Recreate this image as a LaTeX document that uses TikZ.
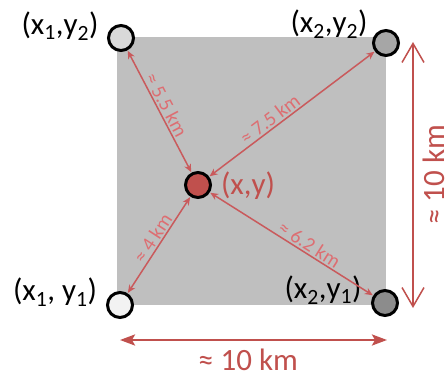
\documentclass[tikz,border=0pt]{standalone}
\usepackage{fontspec}
\setmainfont{Carlito}
\usetikzlibrary{arrows.meta}
\definecolor{accred}{HTML}{C0504D}
\definecolor{distred}{HTML}{C95A5C}
\definecolor{disttext}{HTML}{DD6E72}
\definecolor{rectgray}{HTML}{BFBFBF}
\definecolor{ptA}{HTML}{D9D9D9}
\definecolor{ptB}{HTML}{F2F2F2}
\definecolor{ptC}{HTML}{A6A6A6}
\definecolor{ptD}{HTML}{8C8C8C}
\begin{document}
\begin{tikzpicture}[x=1pt,y=-1pt,
  corner/.style={circle,draw=black,line width=3pt,minimum size=25pt,inner sep=0pt},
  biglbl/.style={font=\fontsize{31}{36}\selectfont,inner sep=0pt},
  distarrow/.style={draw=distred,line width=1.5pt,{Stealth[length=8pt,width=7pt]}-{Stealth[length=8pt,width=7pt]},shorten <=0.5pt,shorten >=0.5pt},
  distlbl/.style={font=\fontsize{20}{24}\selectfont,text=disttext,inner sep=1.5pt,sloped,above},
  dimarrow/.style={draw=accred,line width=2.5pt,{Stealth[length=15pt,width=11pt,inset=3pt]}-{Stealth[length=15pt,width=11pt,inset=3pt]}},
  dimarrowv/.style={draw=accred,line width=1.5pt,{Straight Barb[length=19pt,width=22pt]}-{Straight Barb[length=19pt,width=22pt]}},
  dimlbl/.style={font=\fontsize{31}{36}\selectfont,text=accred,inner sep=0pt}]
\useasboundingbox (0,0) rectangle (447,377);
\fill[rectgray] (117,37) rectangle (386,305);
\node[corner,fill=ptA] (tl) at (121,38) {};
\node[corner,fill=ptC] (tr) at (386,43) {};
\node[corner,fill=ptB] (bl) at (120,305) {};
\node[corner,fill=ptD] (br) at (385,303) {};
\node[corner,fill=accred] (c) at (198,185) {};
\node[biglbl] (ltl) at (60,26) {(x\textsubscript{1},y\textsubscript{2})};
\node[biglbl] (ltr) at (329,24) {(x\textsubscript{2},y\textsubscript{2})};
\node[biglbl] (lbl) at (55,292) {(x\textsubscript{1}, y\textsubscript{1})};
\node[biglbl] (lbr) at (323,290) {(x\textsubscript{2},y\textsubscript{1})};
\node[biglbl,text=accred] (lc) at (248,186) {(x,y)};
\draw[distarrow] (tl) -- node[distlbl,pos=0.48] (d1) {≈ 5.5 km} (c);
\draw[distarrow] (c) -- node[distlbl,pos=0.4] (d2) {≈ 7.5 km} (tr);
\draw[distarrow] (bl) -- node[distlbl,pos=0.52] (d3) {≈ 4 km} (c);
\draw[distarrow] (c) -- node[distlbl,pos=0.58] (d4) {≈ 6.2 km} (br);
\coordinate (hl) at (120,340);
\coordinate (hr) at (387,340);
\draw[dimarrow] (hl) -- (hr);
\node[dimlbl] (hlab) at (248,360) {≈ 10 km};
\coordinate (vt) at (413,42);
\coordinate (vb) at (413,308);
\draw[dimarrowv] (vt) -- (vb);
\node[dimlbl,rotate=90] (vlab) at (434,175) {≈ 10 km};
\end{tikzpicture}
\end{document}
